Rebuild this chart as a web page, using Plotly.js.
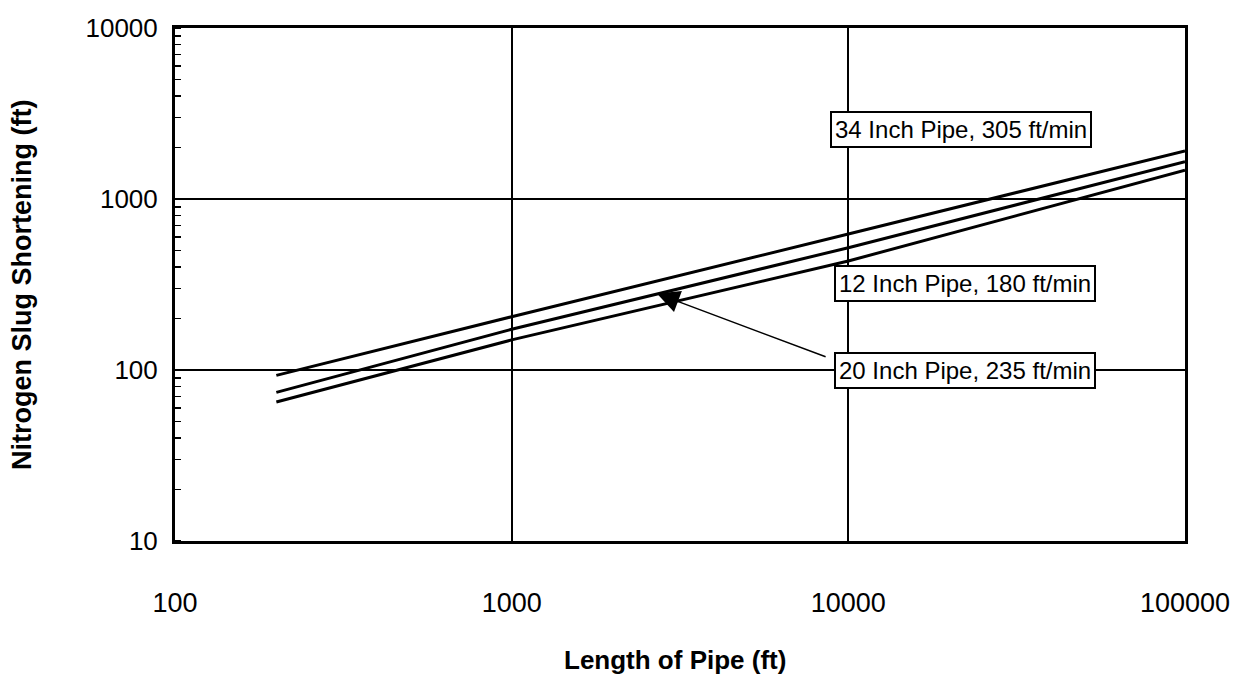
<!DOCTYPE html>
<html>
<head>
<meta charset="utf-8">
<script src="https://cdn.plot.ly/plotly-3.0.1.min.js"></script>
<style>html,body{margin:0;padding:0;background:#fff;}#chart{width:1238px;height:675px;}</style>
</head>
<body>
<div id="chart"></div>
<script>
// Data
const pipeLength = [200, 1000, 10000, 100000];
const pipe34 = [93, 205, 624, 1910];
const pipe20 = [74, 173, 519, 1652];
const pipe12 = [65, 150, 434, 1472];
const labels = ["34 Inch Pipe, 305 ft/min", "20 Inch Pipe, 235 ft/min", "12 Inch Pipe, 180 ft/min"];
const xTicks = [100, 1000, 10000, 100000];
const yTicks = [10, 100, 1000, 10000];

const lineStyle = {color: '#000', width: 3};
const traces = [
  {x: pipeLength, y: pipe34, mode: 'lines', line: lineStyle, name: labels[0]},
  {x: pipeLength, y: pipe20, mode: 'lines', line: lineStyle, name: labels[1]},
  {x: pipeLength, y: pipe12, mode: 'lines', line: lineStyle, name: labels[2]}
];

const labelFont = {family: "'Liberation Sans', Arial, sans-serif", size: 24, color: '#000'};
const boxStyle = {bordercolor: '#000', borderwidth: 2, borderpad: 3, bgcolor: '#fff', font: labelFont, showarrow: false};

const layout = {
  width: 1238, height: 675,
  margin: {l: 175, r: 53, t: 28, b: 134},
  paper_bgcolor: '#fff', plot_bgcolor: '#fff',
  showlegend: false,
  font: {family: "'Liberation Sans', Arial, sans-serif", color: '#000'},
  xaxis: {
    type: 'log', range: [2, 5],
    tickvals: xTicks, ticktext: xTicks.map(String),
    ticks: '', ticklabelstandoff: 36,
    tickfont: {size: 27},
    showgrid: true, gridcolor: '#000', gridwidth: 1.8,
    showline: true, linecolor: '#000', linewidth: 3, mirror: true,
    zeroline: false
  },
  yaxis: {
    type: 'log', range: [1, 4],
    tickvals: yTicks, ticktext: yTicks.map(String),
    ticks: '', ticklabelstandoff: 9,
    tickfont: {size: 26},
    showgrid: true, gridcolor: '#000', gridwidth: 1.8,
    showline: true, linecolor: '#000', linewidth: 3, mirror: true,
    zeroline: false,
    minor: {ticks: 'inside', ticklen: 6, tickcolor: '#000', tickwidth: 1.5, dtick: 'D1', showgrid: false}
  },
  annotations: [
    {xref: 'paper', yref: 'paper', x: 0.495, y: -0.232, yanchor: 'middle', xanchor: 'center',
     text: '<b>Length of Pipe (ft)</b>', showarrow: false,
     font: {size: 26}},
    {xref: 'paper', yref: 'paper', x: -0.152, y: 0.5, xanchor: 'center', yanchor: 'middle',
     text: '<b>Nitrogen Slug Shortening (ft)</b>', textangle: -90, showarrow: false,
     font: {size: 27}},
    Object.assign({xref: 'x', yref: 'y', x: 4.334, y: 3.405, text: labels[0], xanchor: 'center', yanchor: 'middle'}, boxStyle),
    Object.assign({xref: 'x', yref: 'y', x: 4.346, y: 2.505, text: labels[2], xanchor: 'center', yanchor: 'middle'}, boxStyle),
    Object.assign({xref: 'x', yref: 'y', x: 4.346, y: 1.998, text: labels[1], xanchor: 'center', yanchor: 'middle'}, boxStyle),
    {xref: 'x', yref: 'y', axref: 'x', ayref: 'y', x: Math.log10(2700), y: Math.log10(280),
     ax: 3.937, ay: 2.074, showarrow: true, arrowhead: 2, arrowsize: 3, arrowwidth: 1.5,
     arrowcolor: '#000', text: ''}
  ]
};

Plotly.newPlot('chart', traces, layout, {displayModeBar: false, staticPlot: true});
</script>
</body>
</html>
